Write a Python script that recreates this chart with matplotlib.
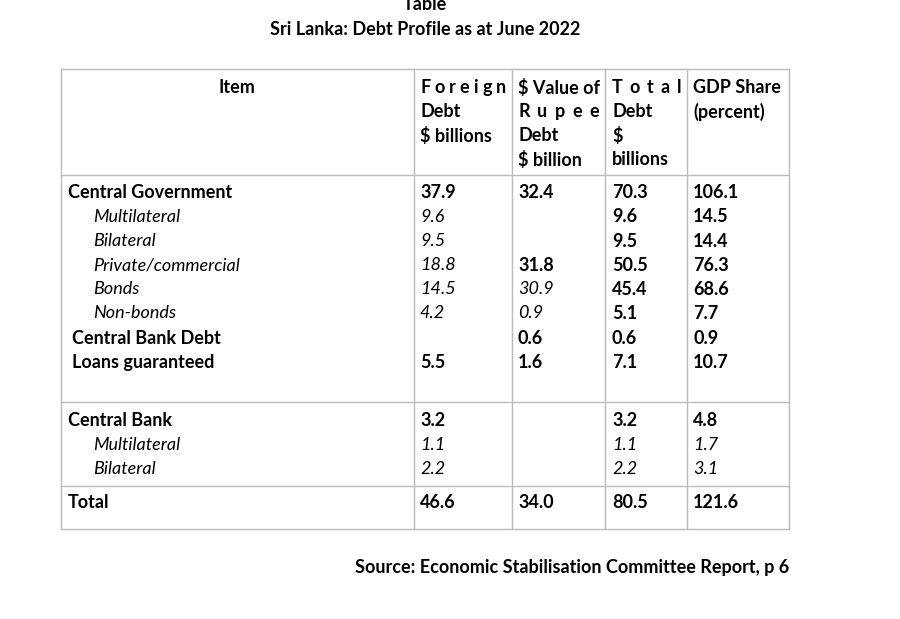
import matplotlib.pyplot as plt

# table content
title = "Sri Lanka: Debt Profile as at June 2022"
source = "Source: Economic Stabilisation Committee Report, p 6"

headers = [
    ["Item"],
    ["Foreign", "Debt", "$ billions"],
    ["$ Value of", "Rupee", "Debt", "$ billion"],
    ["Total", "Debt", "$", "billions"],
    ["GDP Share", "(percent)"],
]
# header lines that are justified across the cell in the source
justified = {(1, 0), (2, 1), (3, 0)}

items = ["Central Government", "Multilateral", "Bilateral", "Private/commercial",
         "Bonds", "Non-bonds", "Central Bank Debt", "Loans guaranteed",
         "Central Bank", "Multilateral", "Bilateral", "Total"]
foreign = ["37.9", "9.6", "9.5", "18.8", "14.5", "4.2", "", "5.5", "3.2", "1.1", "2.2", "46.6"]
rupee = ["32.4", "", "", "31.8", "30.9", "0.9", "0.6", "1.6", "", "", "", "34.0"]
total = ["70.3", "9.6", "9.5", "50.5", "45.4", "5.1", "0.6", "7.1", "3.2", "1.1", "2.2", "80.5"]
gdp = ["106.1", "14.5", "14.4", "76.3", "68.6", "7.7", "0.9", "10.7", "4.8", "1.7", "3.1", "121.6"]

# styles: b = bold, i = italic
styles = [
    "bbbbb",
    "iibbb",
    "iibbb",
    "iibbb",
    "iiibb",
    "iiibb",
    "bbbbb",
    "bbbbb",
    "bbbbb",
    "iiiii",
    "iiiii",
    "bbbbb",
]

# layout in pixels
row_y = [191, 215, 240, 264, 288, 312, 337, 361, 419, 443, 467, 501]
item_x = [68, 93, 93, 93, 93, 93, 72, 72, 68, 93, 93, 68]
col_x = [420, 518, 612, 693]
vlines = [61, 414, 512, 605, 687, 789]
hlines = [69, 175, 402, 486, 529]
line_color = "#bcbcbc"
fs = 13
dy = 1.5

plt.rcParams['font.family'] = ['Lato', 'DejaVu Sans']

fig = plt.figure(figsize=(9, 6.19), dpi=100)
ax = fig.add_axes([0, 0, 1, 1])
ax.set_xlim(0, 900)
ax.set_ylim(619, 0)
ax.axis("off")

for x in vlines:
    ax.plot([x, x], [hlines[0], hlines[-1]], color=line_color, lw=1)
for y in hlines:
    ax.plot([vlines[0], vlines[-1]], [y, y], color=line_color, lw=1)

ax.text(425, 4, "Table", ha="center", va="center", fontsize=fs, fontweight="bold")
ax.text(425, 28 + dy, title, ha="center", va="center", fontsize=fs, fontweight="bold")

renderer = fig.canvas.get_renderer()


def justify(word, x0, x1, y):
    # spread the letters of a word over the cell width, equal gaps
    txts = [ax.text(x0, y, ch, ha="left", va="center", fontsize=fs, fontweight="bold")
            for ch in word]
    widths = [t.get_window_extent(renderer).width for t in txts]
    gap = (x1 - x0 - sum(widths)) / (len(word) - 1)
    x = x0
    for t, w in zip(txts, widths):
        t.set_x(x)
        x += w + gap


# header
ax.text(237, 86 + dy, headers[0][0], ha="center", va="center", fontsize=fs, fontweight="bold")
for j, lines in enumerate(headers[1:]):
    for k, line in enumerate(lines):
        y = 86 + 24 * k + dy
        if (j + 1, k) in justified:
            justify(line, col_x[j], vlines[j + 2] - 6, y)
        else:
            ax.text(col_x[j], y, line, ha="left", va="center",
                    fontsize=fs, fontweight="bold")

# body
for r in range(len(items)):
    st = styles[r]
    cells = [items[r], foreign[r], rupee[r], total[r], gdp[r]]
    xs = [item_x[r]] + col_x
    for c in range(5):
        if st[c] == "b":
            kw = dict(fontweight="bold")
        else:
            kw = dict(fontstyle="italic")
        ax.text(xs[c], row_y[r] + dy, cells[c], ha="left", va="center", fontsize=fs, **kw)

ax.text(789, 566 + dy, source, ha="right", va="center", fontsize=fs, fontweight="bold")

fig.savefig("out.png", dpi=100)
